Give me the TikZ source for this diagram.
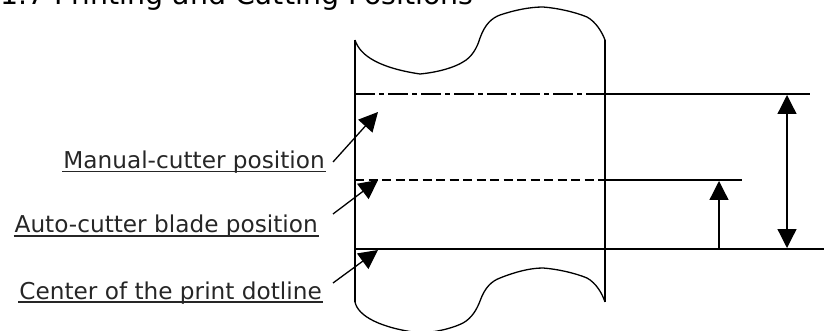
\documentclass[tikz,border=0pt]{standalone}
\usepackage{fontspec}
\setmainfont{DejaVu Sans}
\usetikzlibrary{arrows.meta}
\newcommand\ulabel[1]{\setbox0\hbox{#1}\rlap{\kern-1pt\rule[-3.5pt]{\dimexpr\wd0+2pt\relax}{1.6pt}}\box0}
\tikzset{
  ln/.style={line width=1.3pt,black},
  lbl/.style={inner sep=0pt,anchor=base east,font=\fontsize{23.2}{26}\selectfont,text=black!85},
  tip/.style={-{Triangle[length=19pt,width=19pt]}},
  tipb/.style={{Triangle[length=19pt,width=19pt]}-{Triangle[length=19pt,width=19pt]}}
}
\begin{document}
\begin{tikzpicture}[x=1pt,y=-1pt]
\useasboundingbox (0,0) rectangle (824,331);
\clip (0,0) rectangle (824,331);
\node[inner sep=0pt,anchor=base west,font=\fontsize{28.4}{31}\selectfont] (title) at (0,5) {1.7 Printing and Cutting Positions};
\coordinate (tl) at (355,40);
\coordinate (tr) at (605,40);
\coordinate (bl) at (355,302);
\coordinate (br) at (605,302);
\draw[ln] (tl) -- (bl);
\draw[ln] (tr) -- (br);
\draw[ln] (tl) .. controls (360,56) and (380,68) .. (420,74) .. controls (440,72) and (455,67) .. (463,62) .. controls (472,57) and (477,48) .. (480,38) .. controls (485,24) and (492,18) .. (500,15) .. controls (515,10) and (530,7) .. (543,7) .. controls (557,8) and (575,12) .. (587,17) .. controls (596,22) and (602,32) .. (tr);
\draw[ln] (bl) .. controls (358,316) and (380,328) .. (420,333) .. controls (440,332) and (455,327) .. (463,323) .. controls (472,318) and (477,309) .. (480,301) .. controls (485,287) and (492,281) .. (500,278) .. controls (515,272) and (530,268) .. (543,268) .. controls (557,269) and (575,273) .. (587,278) .. controls (596,283) and (602,293) .. (br);
\coordinate (m0) at (355,94); \coordinate (m1) at (605,94); \coordinate (m2) at (810,94);
\coordinate (a0) at (355,180); \coordinate (a1) at (605,180); \coordinate (a2) at (742,180);
\coordinate (c0) at (355,249); \coordinate (c2) at (824,249);
\draw[ln,dash pattern=on 20pt off 4pt on 5pt off 4pt] (m0) -- (m1);
\draw[ln] (m1) -- (m2);
\draw[ln,dash pattern=on 9pt off 4.5pt] (a0) -- (a1);
\draw[ln] (a1) -- (a2);
\draw[ln] (c0) -- (c2);
\coordinate (d1) at (719,249); \coordinate (d2) at (719,181);
\coordinate (e1) at (787,95); \coordinate (e2) at (787,248);
\draw[ln,tip] (d1) -- (d2);
\draw[ln,tipb] (e1) -- (e2);
\node[lbl] (l1) at (325,169) {\ulabel{Manual-cutter position}};
\node[lbl] (l2) at (318,233) {\ulabel{Auto-cutter blade position}};
\node[lbl] (l3) at (322,299) {\ulabel{Center of the print dotline}};
\coordinate (p1) at (378,112); \coordinate (q1) at (333,162);
\coordinate (p2) at (378,180); \coordinate (q2) at (333,214);
\coordinate (p3) at (378,250); \coordinate (q3) at (333,283);
\draw[ln,tip] (q1) -- (p1);
\draw[ln,tip] (q2) -- (p2);
\draw[ln,tip] (q3) -- (p3);
\end{tikzpicture}
\end{document}
